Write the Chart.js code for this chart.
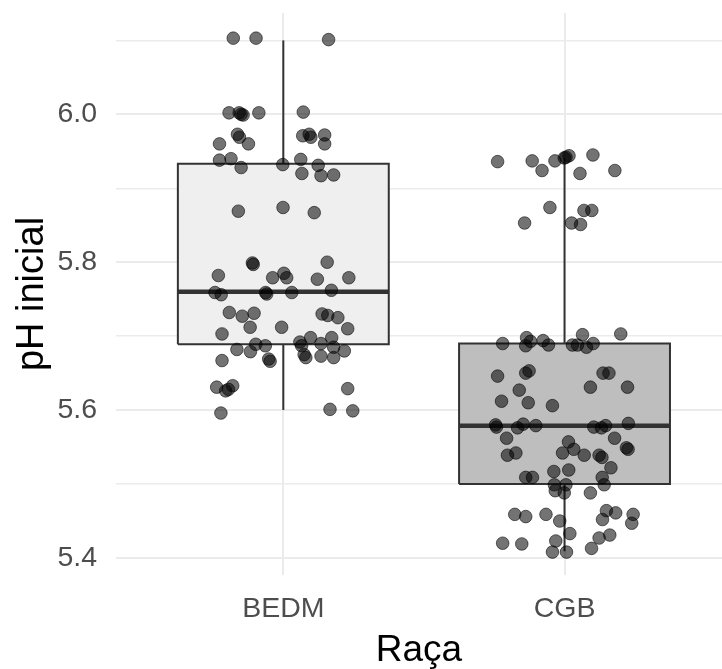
<!DOCTYPE html>
<html>
<head>
<meta charset="utf-8">
<script src="https://cdn.jsdelivr.net/npm/chart.js@4"></script>
<style>
  html, body { margin: 0; padding: 0; background: #ffffff; overflow: hidden; }
  #wrap { width: 722px; height: 669px; position: relative; }
  #boxCanvas { display: block; }
</style>
</head>
<body>
<div id="wrap"><canvas id="boxCanvas"></canvas></div>
<script>
const categories = ["BEDM", "CGB"];

// box statistics
const whiskerLow = [5.60, 5.409];
const boxQ1 = [5.689, 5.50];
const boxMedian = [5.76, 5.579];
const boxQ3 = [5.933, 5.69];
const whiskerHigh = [6.10, 5.94];
const boxFill = ["#efefef", "#bebebe"];

// jittered observations: pH value and horizontal jitter around the category
const bedmPH = [6.103, 6.103, 6.101, 6.002, 6.002, 6.000, 5.999, 6.002, 6.003, 5.973,
  5.969, 5.960, 5.960, 5.971, 5.973, 5.969, 5.972, 5.960, 5.938, 5.940,
  5.928, 5.932, 5.939, 5.920, 5.931, 5.917, 5.918, 5.869, 5.874, 5.867,
  5.799, 5.797, 5.782, 5.779, 5.785, 5.779, 5.800, 5.777, 5.779, 5.759,
  5.756, 5.757, 5.759, 5.759, 5.762, 5.732, 5.727, 5.731, 5.712, 5.703,
  5.712, 5.730, 5.728, 5.725, 5.710, 5.682, 5.679, 5.689, 5.687, 5.669,
  5.666, 5.667, 5.692, 5.687, 5.675, 5.671, 5.698, 5.690, 5.673, 5.698,
  5.685, 5.671, 5.680, 5.631, 5.626, 5.628, 5.633, 5.596, 5.601, 5.599, 5.629];
const bedmJitter = [-0.178, -0.097, 0.161, -0.193, -0.157, -0.150, -0.143, -0.087, 0.071, -0.163,
  -0.156, -0.124, -0.227, 0.069, 0.092, 0.098, 0.147, 0.147, -0.227, -0.186,
  -0.150, -0.002, 0.062, 0.066, 0.124, 0.134, 0.179, -0.160, -0.001, 0.110,
  -0.110, -0.107, -0.231, -0.038, 0.002, 0.012, 0.156, 0.121, 0.233, -0.243,
  -0.221, -0.059, -0.063, 0.030, 0.171, -0.192, -0.146, -0.104, -0.118, -0.218,
  -0.006, 0.138, 0.158, 0.194, 0.229, -0.165, -0.117, -0.098, -0.064, -0.052,
  -0.047, -0.218, 0.059, 0.065, 0.074, 0.080, 0.097, 0.134, 0.134, 0.172,
  0.179, 0.179, 0.217, -0.237, -0.205, -0.195, -0.180, -0.222, 0.166, 0.247, 0.229];

const cgbPH = [5.936, 5.937, 5.924, 5.937, 5.941, 5.942, 5.944, 5.945, 5.920, 5.924,
  5.874, 5.870, 5.870, 5.853, 5.853, 5.851, 5.690, 5.698, 5.687, 5.693,
  5.694, 5.688, 5.702, 5.688, 5.688, 5.685, 5.690, 5.703, 5.646, 5.650,
  5.653, 5.627, 5.612, 5.610, 5.606, 5.650, 5.650, 5.631, 5.631, 5.580,
  5.577, 5.576, 5.581, 5.579, 5.577, 5.576, 5.579, 5.582, 5.562, 5.539,
  5.542, 5.557, 5.542, 5.547, 5.539, 5.562, 5.549, 5.547, 5.539, 5.536,
  5.522, 5.517, 5.519, 5.509, 5.509, 5.509, 5.499, 5.491, 5.499, 5.488,
  5.488, 5.499, 5.459, 5.456, 5.459, 5.450, 5.464, 5.461, 5.452, 5.459,
  5.447, 5.433, 5.420, 5.419, 5.423, 5.408, 5.408, 5.413, 5.427, 5.431];
const cgbJitter = [-0.238, -0.115, -0.080, -0.034, -0.001, 0.005, 0.016, 0.101, 0.055, 0.179,
  -0.052, 0.069, 0.097, -0.142, 0.025, 0.057, -0.220, -0.135, -0.138, -0.121,
  -0.076, -0.057, 0.064, 0.028, 0.046, 0.078, 0.102, 0.200, -0.238, -0.138,
  -0.126, -0.161, -0.224, -0.129, -0.043, 0.137, 0.158, 0.092, 0.224, -0.245,
  -0.242, -0.167, -0.147, -0.102, 0.104, 0.131, 0.146, 0.227, -0.206, -0.203,
  -0.173, 0.014, -0.007, 0.033, 0.070, 0.178, 0.220, 0.226, 0.123, 0.133,
  0.165, -0.038, 0.015, -0.138, -0.114, 0.134, -0.036, -0.033, 0.005, -0.001,
  0.092, 0.141, -0.177, -0.138, -0.066, -0.017, 0.149, 0.182, 0.135, 0.244,
  0.239, 0.019, -0.220, -0.152, -0.031, -0.043, 0.007, 0.096, 0.123, 0.161];

const yTicks = [5.4, 5.5, 5.6, 5.7, 5.8, 5.9, 6.0, 6.1];
const yLabelled = [5.4, 5.6, 5.8, 6.0];

const halfWidth = 0.375;
const edge = "#333333";

const datasets = [];

// points on top
const groups = [[bedmPH, bedmJitter], [cgbPH, cgbJitter]];
groups.forEach(function (g, i) {
  datasets.push({
    type: "scatter",
    data: g[0].map(function (v, k) { return { x: i + 1 + g[1][k], y: v }; }),
    pointRadius: 6.3,
    backgroundColor: "rgba(0,0,0,0.55)",
    borderColor: "rgba(0,0,0,0.55)",
    borderWidth: 1,
    order: 0
  });
});

categories.forEach(function (c, i) {
  const cx = i + 1;
  // median
  datasets.push({
    type: "line",
    data: [{ x: cx - halfWidth, y: boxMedian[i] }, { x: cx + halfWidth, y: boxMedian[i] }],
    borderColor: edge,
    borderWidth: 4.5,
    pointRadius: 0,
    fill: false,
    order: 1
  });
  // box
  datasets.push({
    type: "line",
    data: [
      { x: cx - halfWidth, y: boxQ1[i] },
      { x: cx + halfWidth, y: boxQ1[i] },
      { x: cx + halfWidth, y: boxQ3[i] },
      { x: cx - halfWidth, y: boxQ3[i] },
      { x: cx - halfWidth, y: boxQ1[i] }
    ],
    borderColor: edge,
    borderWidth: 2,
    borderJoinStyle: "miter",
    backgroundColor: boxFill[i],
    pointRadius: 0,
    fill: "shape",
    order: 2
  });
  // whiskers
  datasets.push({
    type: "line",
    data: [{ x: cx, y: boxQ3[i] }, { x: cx, y: whiskerHigh[i] }],
    borderColor: edge, borderWidth: 2, pointRadius: 0, fill: false, order: 3
  });
  datasets.push({
    type: "line",
    data: [{ x: cx, y: boxQ1[i] }, { x: cx, y: whiskerLow[i] }],
    borderColor: edge, borderWidth: 2, pointRadius: 0, fill: false, order: 3
  });
});

const boxCanvas = document.getElementById("boxCanvas");

const boxChart = new Chart(boxCanvas, {
  type: "scatter",
  data: { datasets: datasets },
  options: {
    responsive: true,
    maintainAspectRatio: false,
    animation: false,
    layout: { autoPadding: false, padding: { top: 13, left: 0, right: 0, bottom: 0 } },
    plugins: {
      legend: { display: false },
      tooltip: { enabled: false }
    },
    scales: {
      x: {
        type: "linear",
        min: 0.405,
        max: 2.56,
        border: { display: false },
        afterBuildTicks: function (scale) {
          scale.ticks = categories.map(function (c, i) { return { value: i + 1 }; });
        },
        afterFit: function (scale) {
          scale.height = 94;
          scale.paddingLeft = 0;
          scale.paddingRight = 0;
        },
        grid: { color: "#ebebeb", lineWidth: 2, drawTicks: false },
        ticks: {
          padding: 17,
          color: "#4d4d4d",
          font: { family: "Liberation Sans, Arial, sans-serif", size: 28.5 },
          callback: function (v) { return categories[Math.round(v) - 1]; }
        },
        title: {
          display: true,
          text: "Raça",
          color: "#000000",
          padding: { top: 0, bottom: -4 },
          font: { family: "Liberation Sans, Arial, sans-serif", size: 37 }
        }
      },
      y: {
        type: "linear",
        min: 5.377,
        max: 6.137,
        border: { display: false },
        afterBuildTicks: function (scale) {
          scale.ticks = yTicks.map(function (v) { return { value: v }; });
        },
        afterFit: function (scale) {
          scale.width = 116;
          scale.paddingTop = 0;
          scale.paddingBottom = 0;
        },
        grid: {
          color: "#ebebeb",
          drawTicks: false,
          lineWidth: function (ctx) {
            return yLabelled.some(function (v) { return Math.abs(v - ctx.tick.value) < 1e-6; }) ? 2 : 1.5;
          }
        },
        ticks: {
          padding: 19,
          color: "#4d4d4d",
          font: { family: "Liberation Sans, Arial, sans-serif", size: 28.5 },
          callback: function (v) {
            return yLabelled.some(function (t) { return Math.abs(t - v) < 1e-6; }) ? v.toFixed(1) : "";
          }
        },
        title: {
          display: true,
          text: "pH inicial",
          color: "#000000",
          padding: { top: 10, bottom: 0 },
          font: { family: "Liberation Sans, Arial, sans-serif", size: 38 }
        }
      }
    }
  }
});
</script>
</body>
</html>
